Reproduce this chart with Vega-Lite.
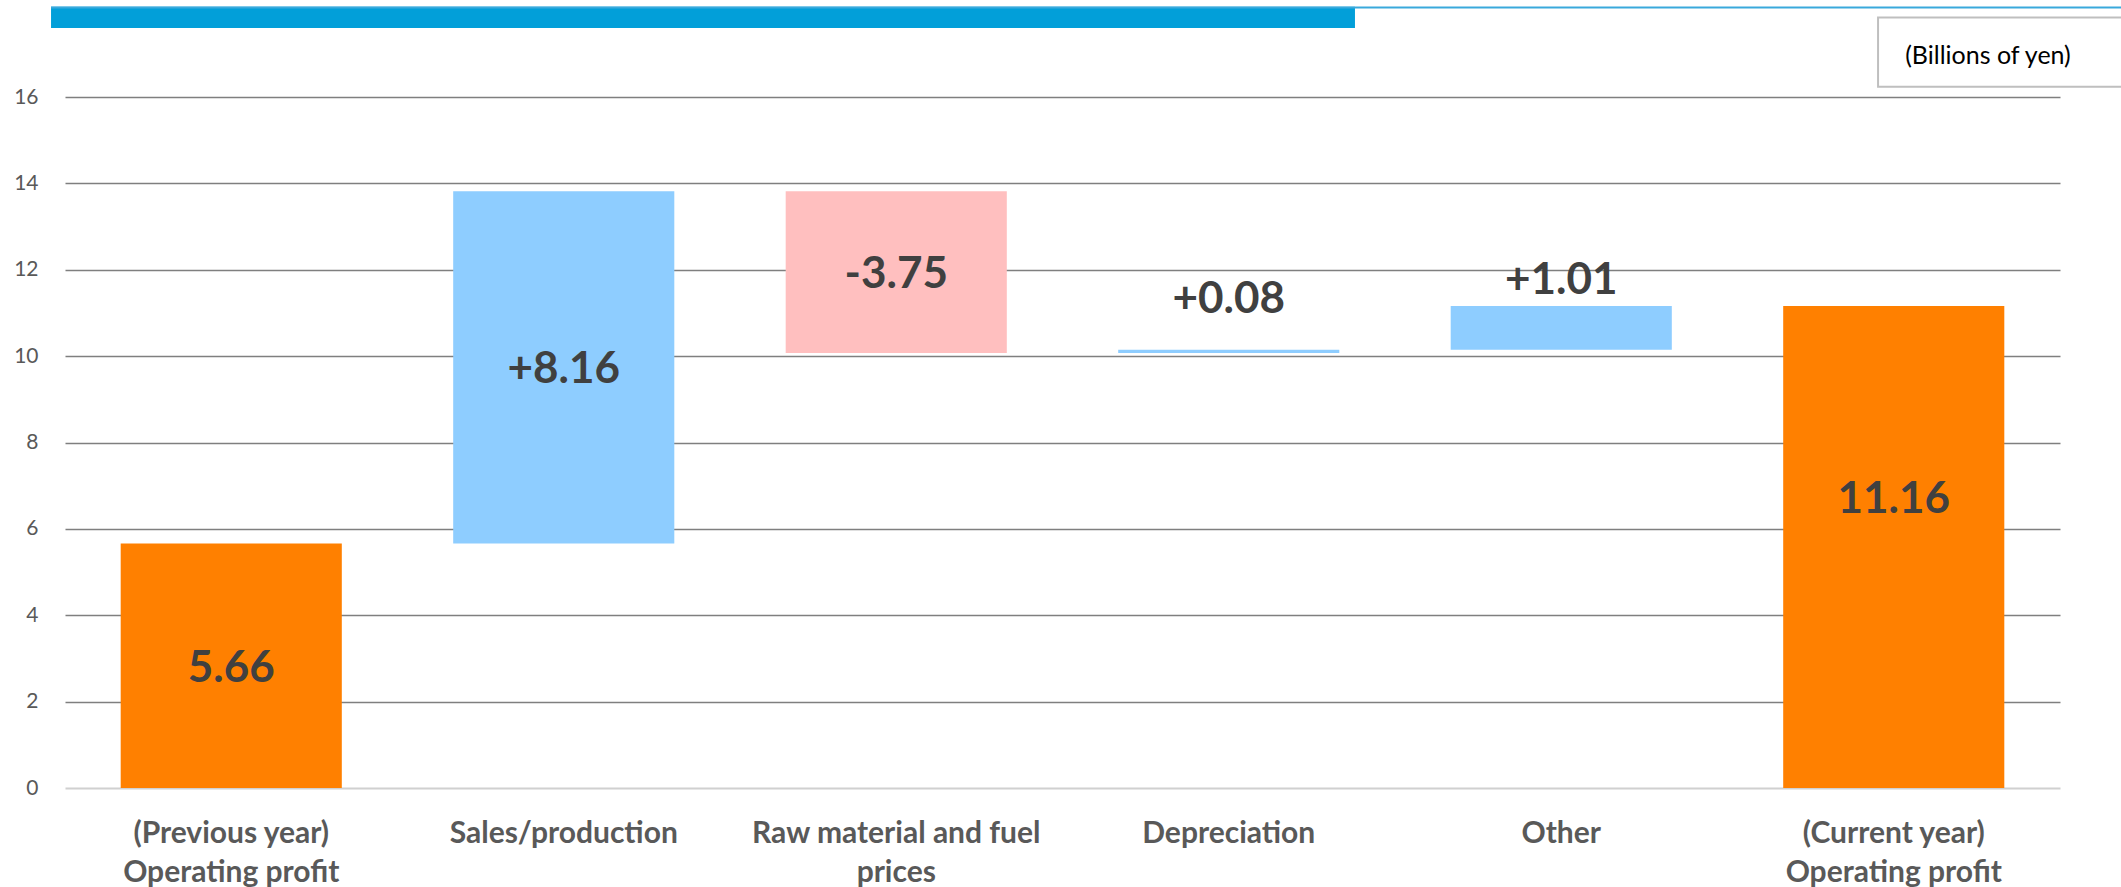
{
  "$schema": "https://vega.github.io/schema/vega-lite/v6.json",
  "width": 1995,
  "height": 691,
  "autosize": "none",
  "padding": {"left": 65, "top": 97, "right": 61, "bottom": 99},
  "background": "#ffffff",
  "config": {"view": {"stroke": null}, "font": "Lato"},
  "datasets": {
    "bridge": [
      {"step": "(Previous year)\nOperating profit", "start": 0, "end": 5.66, "kind": "total", "label": "5.66"},
      {"step": "Sales/production", "start": 5.66, "end": 13.82, "kind": "increase", "label": "+8.16"},
      {"step": "Raw material and fuel\nprices", "start": 13.82, "end": 10.07, "kind": "decrease", "label": "-3.75"},
      {"step": "Depreciation", "start": 10.07, "end": 10.15, "kind": "increase", "label": "+0.08"},
      {"step": "Other", "start": 10.15, "end": 11.16, "kind": "increase", "label": "+1.01"},
      {"step": "(Current year)\nOperating profit", "start": 0, "end": 11.16, "kind": "total", "label": "11.16"}
    ]
  },
  "layer": [
    {
      "data": {"name": "bridge"},
      "encoding": {
        "x": {
          "field": "step",
          "type": "nominal",
          "sort": null,
          "scale": {
            "domain": [
              "(Previous year)\nOperating profit",
              "Sales/production",
              "Raw material and fuel\nprices",
              "Depreciation",
              "Other",
              "(Current year)\nOperating profit"
            ],
            "paddingInner": 0.335,
            "paddingOuter": 0.1675
          },
          "axis": {
            "title": null,
            "domain": false,
            "ticks": false,
            "labelAngle": 0,
            "labelExpr": "split(datum.value, '\\n')",
            "labelFont": "Lato",
            "labelFontWeight": "bold",
            "labelFontSize": 30,
            "labelColor": "#595959",
            "labelLineHeight": 39,
            "labelBaseline": "top",
            "labelLimit": 0,
            "labelPadding": 30
          }
        }
      },
      "layer": [
        {
          "mark": {"type": "bar"},
          "encoding": {
            "y": {
              "field": "start",
              "type": "quantitative",
              "title": null,
              "scale": {"domain": [0, 16], "nice": false},
              "axis": {
                "title": null,
                "values": [0, 2, 4, 6, 8, 10, 12, 14, 16],
                "domain": false,
                "ticks": false,
                "tickSize": 0,
                "labelPadding": 27,
                "labelFontSize": 21,
                "labelColor": "#595959",
                "grid": true,
                "gridColor": {"condition": {"test": "datum.value === 0", "value": "#d0d0d0"}, "value": "#7f7f7f"},
                "gridWidth": {"condition": {"test": "datum.value === 0", "value": 2}, "value": 1.3}
              }
            },
            "y2": {"field": "end"},
            "color": {
              "field": "kind",
              "type": "nominal",
              "scale": {"domain": ["total", "increase", "decrease"], "range": ["#ff8000", "#8ecdff", "#ffbfbf"]},
              "legend": null
            }
          }
        },
        {
          "transform": [
            {"filter": "indexof(['5.66', '+8.16', '-3.75'], datum.label) >= 0"},
            {"calculate": "(datum.start + datum.end) / 2", "as": "mid"}
          ],
          "mark": {"type": "text", "fontSize": 44, "fontWeight": "bold", "color": "#404040", "baseline": "middle", "dy": 3},
          "encoding": {
            "y": {"field": "mid", "type": "quantitative", "title": null},
            "text": {"field": "label"}
          }
        },
        {
          "transform": [
            {"filter": "datum.label === '11.16'"},
            {"calculate": "(datum.start + datum.end) / 2", "as": "mid"}
          ],
          "mark": {"type": "text", "fontSize": 44, "fontWeight": "bold", "color": "#404040", "baseline": "middle", "dy": -47},
          "encoding": {
            "y": {"field": "mid", "type": "quantitative", "title": null},
            "text": {"field": "label"}
          }
        },
        {
          "transform": [{"filter": "datum.label === '+0.08'"}],
          "mark": {"type": "text", "fontSize": 44, "fontWeight": "bold", "color": "#404040", "baseline": "middle", "dy": -50},
          "encoding": {
            "y": {"field": "end", "type": "quantitative", "title": null},
            "text": {"field": "label"}
          }
        },
        {
          "transform": [{"filter": "datum.label === '+1.01'"}],
          "mark": {"type": "text", "fontSize": 44, "fontWeight": "bold", "color": "#404040", "baseline": "middle", "dy": -25},
          "encoding": {
            "y": {"field": "end", "type": "quantitative", "title": null},
            "text": {"field": "label"}
          }
        }
      ]
    },
    {
      "data": {"values": [{}]},
      "layer": [
        {
          "mark": {"type": "rect", "color": "#029fd9"},
          "encoding": {
            "x": {"datum": -0.007, "type": "quantitative", "scale": {"domain": [0, 1], "nice": false, "zero": false}, "axis": null},
            "x2": {"datum": 0.6466},
            "y": {"datum": 18.09, "type": "quantitative", "scale": {"domain": [0, 16], "nice": false}, "axis": null},
            "y2": {"datum": 17.6}
          }
        },
        {
          "mark": {"type": "rule", "color": "#3aa9dc", "strokeWidth": 2},
          "encoding": {
            "x": {"datum": -0.007, "type": "quantitative"},
            "x2": {"datum": 1.04},
            "y": {"datum": 18.07, "type": "quantitative"}
          }
        },
        {
          "mark": {"type": "rect", "fill": "#ffffff", "stroke": "#bfbfbf", "strokeWidth": 2},
          "encoding": {
            "x": {"datum": 0.9088, "type": "quantitative"},
            "x2": {"datum": 1.035},
            "y": {"datum": 17.84, "type": "quantitative"},
            "y2": {"datum": 16.24}
          }
        },
        {
          "mark": {"type": "text", "fontSize": 25, "color": "#000000", "align": "center", "baseline": "middle"},
          "encoding": {
            "x": {"datum": 0.9639, "type": "quantitative"},
            "y": {"datum": 16.95, "type": "quantitative"},
            "text": {"value": "(Billions of yen)"}
          }
        }
      ]
    }
  ],
  "resolve": {"scale": {"x": "independent", "y": "independent"}}
}
